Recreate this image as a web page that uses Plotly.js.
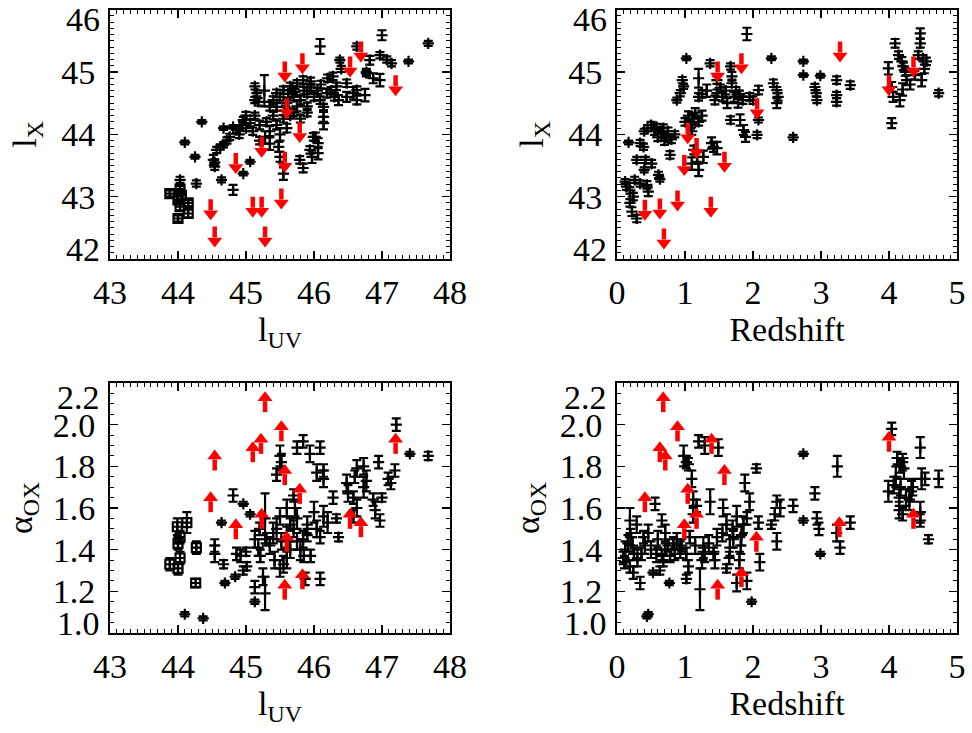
<!DOCTYPE html>
<html><head><meta charset="utf-8">
<script src="https://cdn.plot.ly/plotly-3.0.1.min.js"></script>
<style>html,body{margin:0;padding:0;background:#fff}</style>
</head><body><div id="chart" style="width:972px;height:733px"></div>
<script>
// ---------- DATA ----------
// Panel 1: lX vs lUV  [lUV, lX, err]
const luvLxSquares = [[43.88,43.05,0.05],[44.0,42.95,0.06],[44.03,43.12,0.05],[44.03,42.84,0.06],[44.0,42.65,0.05],[44.15,42.73,0.06],[44.15,42.9,0.05],[44.05,43.02,0.06]];
const luvLxPoints = [[44.10,43.87,0.03],[44.35,44.20,0.03],[44.25,43.64,0.03],[44.03,43.27,0.05],[44.27,43.21,0.05],[44.52,43.59,0.08],[44.54,43.48,0.05],[44.64,43.27,0.04],[44.81,43.11,0.08],[44.96,43.37,0.03],[45.06,43.56,0.03],[44.67,44.10,0.03],[44.81,44.12,0.03],[44.67,43.83,0.04],[44.57,43.75,0.05],[44.62,43.8,0.04],[44.76,43.96,0.05],[44.86,44.07,0.05],[44.96,44.23,0.05],[45.06,44.18,0.05],[44.9,44.0,0.06],[45.0,44.1,0.05],[45.1,44.05,0.06],[45.2,44.15,0.07],[45.13,44.30,0.05],[45.3,44.2,0.06],[45.35,44.05,0.08],[45.4,44.3,0.06],[45.45,44.15,0.07],[45.5,44.0,0.1],[45.55,44.25,0.06],[45.6,44.1,0.07],[45.65,44.3,0.05],[45.48,43.8,0.08],[45.50,43.64,0.08],[45.55,43.37,0.1],[45.7,44.35,0.06],[45.28,43.95,0.1],[45.2,43.9,0.06],[45.13,44.77,0.05],[45.16,44.66,0.05],[45.18,44.52,0.06],[45.27,44.7,0.25],[45.13,44.55,0.05],[45.45,44.66,0.06],[45.55,44.71,0.06],[45.65,44.77,0.06],[45.75,44.82,0.05],[45.84,44.87,0.06],[45.45,44.44,0.06],[45.5,44.6,0.06],[45.6,44.5,0.07],[45.7,44.6,0.06],[45.8,44.55,0.07],[45.9,44.65,0.05],[45.95,44.75,0.06],[46.0,44.6,0.06],[46.05,44.7,0.05],[46.1,44.8,0.06],[45.85,44.7,0.06],[45.75,44.45,0.08],[45.9,44.45,0.06],[46.09,44.55,0.06],[46.14,44.44,0.05],[46.14,44.18,0.1],[46.14,44.28,0.08],[45.99,43.96,0.06],[46.06,43.86,0.08],[46.06,43.7,0.1],[45.94,43.75,0.06],[45.79,43.59,0.06],[45.84,43.46,0.07],[46.09,45.41,0.12],[46.38,45.19,0.04],[46.4,45.05,0.05],[46.28,44.93,0.06],[46.33,44.77,0.06],[46.19,44.66,0.07],[46.48,44.82,0.06],[46.48,44.6,0.08],[46.63,44.71,0.06],[46.63,44.55,0.07],[46.77,44.98,0.05],[46.97,44.87,0.1],[46.82,45.19,0.07],[46.97,45.27,0.05],[46.63,45.41,0.05],[47.14,45.14,0.05],[47.0,45.59,0.08],[47.68,45.46,0.04],[47.39,45.17,0.03],[47.07,45.2,0.05],[46.75,44.63,0.1],[46.58,44.66,0.1],[46.36,44.55,0.08],[46.77,45.0,0.05],[46.87,44.9,0.08],[45.62,44.65,0.06],[45.68,44.72,0.05],[45.72,44.68,0.05],[45.95,44.85,0.06],[46.2,44.9,0.06],[45.4,44.55,0.06],[45.35,44.45,0.07],[45.58,44.38,0.08],[45.0,44.3,0.06],[44.95,44.15,0.05],[46.25,44.7,0.06],[46.3,44.6,0.06],[45.8,44.25,0.06],[45.9,44.35,0.06],[45.35,43.85,0.1],[44.72,43.9,0.05],[45.97,43.64,0.1],[46.02,43.96,0.07],[44.54,43.55,0.05]];
const luvLxLimits = [[45.57,45.17],[45.83,45.3],[46.69,45.49],[46.53,45.25],[47.2,44.95],[45.6,44.58],[45.79,44.2],[45.23,43.96],[45.57,43.72],[44.85,43.7],[45.52,43.13],[45.1,43.0],[45.23,43.0],[44.48,42.96],[44.54,42.52],[45.28,42.52]];

// Panel 2: lX vs redshift  [z, lX, err]
const zLxPoints = [[0.17,43.87,0.03],[0.12,43.24,0.04],[0.14,43.16,0.05],[0.19,43.1,0.05],[0.24,43.0,0.06],[0.19,42.9,0.06],[0.22,42.76,0.07],[0.29,42.65,0.06],[0.26,43.27,0.05],[0.34,43.21,0.05],[0.44,43.19,0.06],[0.46,43.08,0.07],[0.29,43.59,0.05],[0.42,43.59,0.05],[0.51,43.53,0.06],[0.40,43.43,0.04],[0.39,43.8,0.05],[0.34,43.86,0.05],[0.4,44.05,0.04],[0.45,44.1,0.05],[0.5,44.15,0.05],[0.55,44.05,0.06],[0.58,44.12,0.05],[0.6,43.95,0.06],[0.65,44.0,0.05],[0.68,44.1,0.06],[0.7,43.9,0.07],[0.75,44.05,0.06],[0.72,43.95,0.05],[0.78,43.67,0.06],[0.61,43.35,0.05],[0.63,43.28,0.04],[0.8,43.92,0.06],[0.85,44.0,0.05],[0.88,44.55,0.04],[0.93,44.66,0.05],[0.98,44.77,0.04],[0.96,44.87,0.05],[1.02,45.22,0.03],[1.0,44.2,0.06],[1.05,44.3,0.07],[1.08,44.15,0.06],[1.12,44.25,0.08],[1.15,44.35,0.07],[1.2,44.2,0.06],[1.25,44.3,0.08],[1.1,44.05,0.06],[1.13,43.75,0.07],[1.18,43.64,0.08],[1.1,43.53,0.1],[1.2,43.43,0.1],[1.27,43.64,0.1],[1.39,43.86,0.09],[1.47,43.78,0.1],[1.42,43.8,0.08],[1.2,44.9,0.15],[1.2,44.6,0.06],[1.25,44.65,0.06],[1.32,44.7,0.1],[1.37,45.14,0.05],[1.47,44.87,0.06],[1.44,44.55,0.07],[1.47,44.66,0.06],[1.52,44.75,0.05],[1.55,44.6,0.07],[1.6,44.7,0.06],[1.62,44.5,0.08],[1.67,45.09,0.05],[1.69,44.93,0.07],[1.69,44.82,0.06],[1.72,44.6,0.08],[1.75,44.7,0.06],[1.78,44.5,0.07],[1.8,44.65,0.05],[1.67,44.23,0.06],[1.81,44.23,0.09],[1.86,44.07,0.08],[1.89,43.96,0.08],[1.91,45.61,0.1],[1.85,44.55,0.06],[1.95,44.6,0.06],[2.06,43.99,0.05],[2.08,44.23,0.04],[2.08,44.71,0.07],[2.0,44.55,0.06],[2.27,45.22,0.03],[2.3,44.82,0.06],[2.35,44.71,0.05],[2.37,44.6,0.06],[2.35,44.5,0.08],[2.59,43.95,0.04],[2.74,45.17,0.03],[2.74,44.95,0.03],[2.99,44.94,0.03],[2.91,44.76,0.05],[2.93,44.66,0.05],[2.94,44.55,0.05],[3.23,44.87,0.06],[3.23,44.63,0.05],[3.23,44.52,0.06],[3.43,44.79,0.06],[3.99,45.06,0.1],[4.04,44.76,0.08],[4.06,44.6,0.08],[4.16,44.55,0.1],[4.04,44.18,0.08],[4.09,45.46,0.07],[4.14,45.27,0.06],[4.19,45.17,0.07],[4.21,45.09,0.06],[4.24,45.0,0.06],[4.26,44.87,0.08],[4.31,44.8,0.08],[4.2,44.72,0.1],[4.46,45.62,0.08],[4.46,45.46,0.07],[4.43,45.27,0.06],[4.5,45.22,0.05],[4.55,45.17,0.06],[4.52,45.05,0.07],[4.48,44.87,0.1],[4.73,44.66,0.05],[4.38,44.95,0.07]];
const zLxLimits = [[0.41,42.95],[0.63,42.97],[0.69,42.49],[0.89,43.1],[1.38,43.0],[0.99,43.67],[1.04,44.18],[1.17,43.94],[1.58,43.72],[1.48,45.17],[1.83,45.3],[2.06,44.58],[3.28,45.49],[4.0,44.95],[4.36,45.25]];

// Panel 3: alpha_OX vs lUV  [lUV, alpha, err]
const luvAoxSquares = [[43.88,1.33,0.03],[44.0,1.31,0.03],[44.03,1.36,0.03],[44.0,1.43,0.03],[43.99,1.51,0.04],[44.13,1.53,0.05],[44.03,1.46,0.03],[44.27,1.41,0.03],[44.26,1.24,0.02]];
const luvAoxPoints = [[44.1,1.09,0.01],[44.37,1.07,0.01],[44.54,1.38,0.04],[44.54,1.42,0.03],[44.67,1.33,0.02],[44.69,1.24,0.01],[44.64,1.53,0.01],[44.81,1.66,0.03],[44.96,1.62,0.01],[45.06,1.57,0.01],[44.84,1.27,0.01],[44.86,1.38,0.03],[44.92,1.37,0.03],[45.0,1.39,0.02],[44.96,1.30,0.02],[45.01,1.32,0.02],[45.13,1.45,0.04],[45.18,1.41,0.04],[45.21,1.37,0.03],[45.13,1.22,0.03],[45.13,1.15,0.01],[45.25,1.27,0.04],[45.28,1.19,0.08],[45.28,1.55,0.12],[45.45,1.76,0.03],[45.5,1.85,0.05],[45.52,1.82,0.04],[45.75,1.89,0.03],[45.84,1.92,0.03],[45.94,1.86,0.04],[46.09,1.89,0.03],[46.14,1.78,0.03],[46.04,1.77,0.04],[46.14,1.74,0.04],[45.45,1.5,0.05],[45.5,1.56,0.04],[45.52,1.44,0.04],[45.7,1.66,0.03],[45.72,1.6,0.04],[45.4,1.48,0.05],[45.35,1.42,0.04],[45.42,1.35,0.04],[45.55,1.33,0.04],[45.6,1.36,0.05],[45.5,1.31,0.04],[45.65,1.4,0.04],[45.8,1.4,0.05],[45.85,1.37,0.03],[45.95,1.37,0.03],[46.09,1.26,0.03],[45.87,1.26,0.03],[46.28,1.65,0.03],[46.36,1.46,0.02],[46.33,1.55,0.02],[46.14,1.56,0.05],[46.2,1.53,0.05],[46.04,1.5,0.04],[46.09,1.46,0.03],[45.9,1.47,0.03],[45.84,1.45,0.04],[45.7,1.5,0.04],[45.75,1.55,0.05],[45.9,1.52,0.04],[46.0,1.58,0.05],[45.6,1.6,0.04],[45.65,1.52,0.03],[46.48,1.72,0.04],[46.5,1.67,0.04],[46.58,1.65,0.03],[46.63,1.6,0.04],[46.58,1.56,0.03],[46.6,1.75,0.03],[46.63,1.79,0.04],[46.73,1.8,0.04],[46.77,1.73,0.05],[46.73,1.7,0.05],[46.87,1.64,0.03],[46.9,1.59,0.04],[46.97,1.54,0.03],[46.95,1.82,0.03],[47.0,1.65,0.02],[47.09,1.74,0.03],[47.19,1.78,0.03],[47.21,2.0,0.03],[47.41,1.86,0.01],[47.68,1.85,0.02],[47.13,1.72,0.03],[45.3,1.45,0.03],[45.2,1.5,0.03],[45.6,1.45,0.06],[45.75,1.44,0.04]];
const luvAoxLimits = [[45.28,2.06],[45.52,1.92],[45.22,1.86],[45.1,1.82],[44.54,1.78],[44.48,1.58],[45.57,1.71],[45.79,1.62],[44.85,1.45],[45.23,1.5],[45.6,1.39],[46.53,1.5],[46.69,1.46],[47.2,1.86],[45.83,1.21],[45.57,1.16]];

// Panel 4: alpha_OX vs redshift  [z, alpha, err]
const zAoxPoints = [[0.09,1.36,0.03],[0.12,1.4,0.04],[0.16,1.43,0.04],[0.19,1.54,0.06],[0.29,1.52,0.04],[0.11,1.34,0.03],[0.19,1.32,0.03],[0.24,1.29,0.03],[0.34,1.24,0.03],[0.41,1.42,0.04],[0.39,1.46,0.03],[0.46,1.48,0.04],[0.44,1.08,0.01],[0.46,1.09,0.01],[0.53,1.29,0.01],[0.56,1.62,0.03],[0.58,1.38,0.04],[0.66,1.37,0.03],[0.71,1.4,0.03],[0.63,1.3,0.02],[0.66,1.54,0.03],[0.71,1.48,0.04],[0.77,1.24,0.01],[0.78,1.37,0.03],[0.83,1.43,0.03],[0.88,1.45,0.03],[0.93,1.4,0.04],[0.98,1.85,0.05],[1.02,1.82,0.03],[1.05,1.81,0.03],[1.1,1.74,0.04],[1.02,1.38,0.03],[1.05,1.32,0.03],[1.02,1.26,0.02],[1.12,1.64,0.04],[1.17,1.61,0.03],[1.12,1.57,0.04],[1.2,1.92,0.03],[1.29,1.9,0.04],[1.49,1.89,0.04],[1.37,1.63,0.06],[1.22,1.21,0.1],[1.27,1.41,0.05],[1.29,1.38,0.04],[1.42,1.38,0.03],[1.44,1.35,0.04],[1.47,1.46,0.04],[1.56,1.6,0.04],[1.61,1.52,0.05],[1.66,1.41,0.04],[1.71,1.45,0.04],[1.76,1.56,0.05],[1.61,1.31,0.02],[1.76,1.24,0.04],[1.83,1.47,0.05],[1.86,1.52,0.04],[1.91,1.55,0.03],[1.82,1.42,0.04],[1.88,1.72,0.04],[1.95,1.63,0.04],[1.91,1.25,0.04],[1.98,1.15,0.01],[2.05,1.79,0.02],[2.08,1.53,0.03],[2.1,1.34,0.04],[2.27,1.52,0.02],[2.35,1.63,0.03],[2.32,1.57,0.03],[2.35,1.44,0.04],[2.4,1.6,0.04],[2.59,1.61,0.03],[2.74,1.86,0.01],[2.74,1.54,0.01],[2.91,1.67,0.03],[2.94,1.55,0.03],[2.97,1.5,0.03],[2.99,1.38,0.01],[3.24,1.8,0.05],[3.28,1.41,0.03],[3.23,1.48,0.04],[3.43,1.53,0.03],[3.99,1.68,0.05],[4.04,1.98,0.03],[4.07,1.71,0.04],[4.1,1.75,0.05],[4.12,1.84,0.03],[4.17,1.8,0.03],[4.2,1.82,0.04],[4.22,1.79,0.05],[4.17,1.7,0.04],[4.15,1.65,0.04],[4.15,1.59,0.04],[4.2,1.57,0.03],[4.25,1.65,0.04],[4.3,1.64,0.05],[4.33,1.68,0.05],[4.35,1.7,0.04],[4.46,1.89,0.05],[4.48,1.74,0.05],[4.53,1.74,0.03],[4.46,1.58,0.05],[4.46,1.54,0.03],[4.58,1.45,0.02],[4.73,1.74,0.04],[0.25,1.38,0.03],[0.3,1.36,0.04],[0.36,1.38,0.03],[0.5,1.4,0.04],[0.6,1.45,0.04],[0.68,1.35,0.03],[0.75,1.42,0.03],[0.85,1.38,0.03],[0.95,1.42,0.03],[1.07,1.46,0.03],[1.15,1.42,0.04],[1.25,1.35,0.04],[1.35,1.43,0.04],[1.55,1.48,0.04],[1.65,1.36,0.03],[1.7,1.5,0.04],[1.8,1.35,0.04],[0.2,1.46,0.04],[0.23,1.42,0.04]];
const zAoxLimits = [[0.68,2.06],[0.89,1.92],[0.63,1.82],[0.71,1.78],[1.39,1.86],[1.58,1.71],[0.41,1.58],[1.04,1.62],[1.17,1.5],[0.99,1.45],[2.05,1.39],[3.27,1.46],[4.0,1.87],[4.36,1.5],[1.83,1.22],[1.48,1.16]];

// Axis ranges & ticks
const lxRange = [42, 46];
const aoxRange = [1.0, 2.2];
const luvRange = [43, 48];
const zRange = [0, 5];
const lxTicks = [42, 43, 44, 45, 46];
const aoxTicks = [1.0, 1.2, 1.4, 1.6, 1.8, 2.0, 2.2];
const aoxTickText = ['1.0','1.2','1.4','1.6','1.8','2.0','2.2'];
const luvTicks = [43, 44, 45, 46, 47, 48];
const zTicks = [0, 1, 2, 3, 4, 5];

// ---------- LAYOUT GEOMETRY ----------
const W = 972, H = 733;
const xDomL = [110/W, 450/W], xDomR = [617/W, 957/W];
const yDomT = [1-259/H, 1-9.7/H], yDomB = [1-633/H, 1-383/H];
const FONT = 'Liberation Serif, Times New Roman, serif';

function pxPerUnit(dom, range, total) { return (dom[1]-dom[0])*total/(range[1]-range[0]); }

function pointsTrace(rows, xa, ya, symbol, size) {
  return {type:'scatter', mode:'markers', xaxis:xa, yaxis:ya,
    x: rows.map(r=>r[0]), y: rows.map(r=>r[1]),
    marker:{symbol:symbol, size:size, color:'black', line:{width:2.2, color:'black'}},
    error_y:{type:'data', array: rows.map(r=>r[2]), visible:true, color:'black', thickness:2.2, width:4.5},
    hoverinfo:'skip', showlegend:false};
}

function arrowTraces(rows, xa, ya, dir, ppu) {
  const lenPx = 21, headR = 6.5;
  const centerOff = (lenPx - headR)/ppu;
  const shaft = (lenPx - 10)/ppu;
  const xs = rows.map(r=>r[0]);
  const ys = rows.map(r=>r[1]);
  const zeros = rows.map(()=>0);
  const sh = rows.map(()=>shaft);
  const shaftTr = {type:'scatter', mode:'markers', xaxis:xa, yaxis:ya, x:xs, y:ys,
    marker:{size:4, color:'red', opacity:0},
    error_y:{type:'data', symmetric:false, array: dir>0 ? sh : zeros, arrayminus: dir>0 ? zeros : sh,
             visible:true, color:'red', thickness:4.5, width:0},
    hoverinfo:'skip', showlegend:false};
  const headTr = {type:'scatter', mode:'markers', xaxis:xa, yaxis:ya, x:xs,
    y: ys.map(v=> v + dir*centerOff),
    marker:{symbol: dir>0 ? 'triangle-up' : 'triangle-down', size:13, color:'red', line:{width:0}},
    hoverinfo:'skip', showlegend:false};
  return [shaftTr, headTr];
}

const ppuT = pxPerUnit(yDomT, lxRange, H);
const ppuB = pxPerUnit(yDomB, aoxRange, H);

const data = [
  pointsTrace(luvLxSquares, 'x', 'y', 'square-cross-open', 9),
  pointsTrace(luvLxPoints, 'x', 'y', 'cross-thin-open', 8),
  ...arrowTraces(luvLxLimits, 'x', 'y', -1, ppuT),
  pointsTrace(zLxPoints, 'x2', 'y2', 'cross-thin-open', 8),
  ...arrowTraces(zLxLimits, 'x2', 'y2', -1, ppuT),
  pointsTrace(luvAoxSquares, 'x3', 'y3', 'square-cross-open', 9),
  pointsTrace(luvAoxPoints, 'x3', 'y3', 'cross-thin-open', 8),
  ...arrowTraces(luvAoxLimits, 'x3', 'y3', 1, ppuB),
  pointsTrace(zAoxPoints, 'x4', 'y4', 'cross-thin-open', 8),
  ...arrowTraces(zAoxLimits, 'x4', 'y4', 1, ppuB)
];

function axis(extra) {
  return Object.assign({
    showline:true, linecolor:'black', linewidth:2, mirror:'allticks',
    ticks:'inside', ticklen:8, tickwidth:1.5, tickcolor:'black',
    showgrid:false, zeroline:false, fixedrange:true,
    tickfont:{family:FONT, size:34, color:'black'}
  }, extra);
}
function edgeText(vals, texts, edgeSet) {
  return vals.map((v,i)=> edgeSet.includes(v) ? ' ' : texts[i]);
}
const minorX = {ticks:'inside', ticklen:4, tickwidth:1, tickcolor:'black', dtick:0.1};
const minorLx = {ticks:'inside', ticklen:4, tickwidth:1, tickcolor:'black', dtick:0.1};
const minorA = {ticks:'inside', ticklen:4, tickwidth:1, tickcolor:'black', dtick:0.05};
const tFont = {family:FONT, size:34, color:'black'};

const layout = {
  width:W, height:H, margin:{l:0,r:0,t:0,b:0}, paper_bgcolor:'white', plot_bgcolor:'white',
  showlegend:false,
  xaxis: axis({domain:xDomL, range:luvRange, anchor:'y', tickvals:luvTicks, ticklabelstandoff:2, minor:minorX,
               title:{text:'l<sub>UV</sub>', standoff:4, font:tFont}}),
  yaxis: axis({domain:yDomT, range:lxRange, anchor:'x', tickvals:lxTicks, ticktext:edgeText(lxTicks, lxTicks.map(String), [42,46]), ticklabelstandoff:6, minor:minorLx,
               title:{text:'l<sub>X</sub>', standoff:14, font:tFont}}),
  xaxis2: axis({domain:xDomR, range:zRange, anchor:'y2', tickvals:zTicks, ticklabelstandoff:2, minor:minorX,
               title:{text:'Redshift', standoff:4, font:tFont}}),
  yaxis2: axis({domain:yDomT, range:lxRange, anchor:'x2', tickvals:lxTicks, ticktext:edgeText(lxTicks, lxTicks.map(String), [42,46]), ticklabelstandoff:6, minor:minorLx,
               title:{text:'l<sub>X</sub>', standoff:14, font:tFont}}),
  xaxis3: axis({domain:xDomL, range:luvRange, anchor:'y3', tickvals:luvTicks, ticklabelstandoff:2, minor:minorX,
               title:{text:'l<sub>UV</sub>', standoff:4, font:tFont}}),
  yaxis3: axis({domain:yDomB, range:aoxRange, anchor:'x3', tickvals:aoxTicks, ticktext:edgeText(aoxTicks, aoxTickText, [1.0,2.2]), ticklabelstandoff:6, minor:minorA,
               title:{text:'α<sub>OX</sub>', standoff:10, font:tFont}}),
  xaxis4: axis({domain:xDomR, range:zRange, anchor:'y4', tickvals:zTicks, ticklabelstandoff:2, minor:minorX,
               title:{text:'Redshift', standoff:4, font:tFont}}),
  yaxis4: axis({domain:yDomB, range:aoxRange, anchor:'x4', tickvals:aoxTicks, ticktext:edgeText(aoxTicks, aoxTickText, [1.0,2.2]), ticklabelstandoff:6, minor:minorA,
               title:{text:'α<sub>OX</sub>', standoff:10, font:tFont}}),
  annotations: []
};

// Edge tick labels, nudged inward like the original
function edgeLabel(xDom, yref, val, text, shift) {
  return {xref:'paper', yref:yref, x:xDom[0], y:val, text:text, showarrow:false,
          xanchor:'right', yanchor:'middle', xshift:-8, yshift:shift,
          font:tFont};
}
layout.annotations.push(
  edgeLabel(xDomL, 'y', 46, '46', -10), edgeLabel(xDomL, 'y', 42, '42', 10),
  edgeLabel(xDomR, 'y2', 46, '46', -10), edgeLabel(xDomR, 'y2', 42, '42', 10),
  edgeLabel(xDomL, 'y3', 2.2, '2.2', -14), edgeLabel(xDomL, 'y3', 1.0, '1.0', 10),
  edgeLabel(xDomR, 'y4', 2.2, '2.2', -14), edgeLabel(xDomR, 'y4', 1.0, '1.0', 10)
);

Plotly.newPlot('chart', data, layout, {staticPlot:true, displayModeBar:false});
</script></body></html>
